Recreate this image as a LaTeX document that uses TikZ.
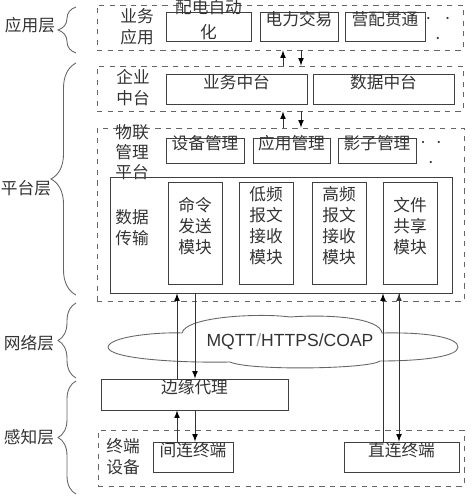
\documentclass[tikz,border=0pt]{standalone}
\usepackage{fontspec}
\setmainfont{Noto Sans CJK SC}
\newfontfamily\protofont{Liberation Sans}
\usetikzlibrary{arrows,fit,decorations.pathreplacing}
\begin{document}
\begin{tikzpicture}[x=0.02cm,y=-0.02cm,line width=0.5pt,
		font=\fontsize{9.5}{12}\selectfont,
		box/.style={draw=black!75,inner sep=0pt,align=center,text=black!80},
		group/.style={draw=black!60,dashed,inner sep=0pt},
		txt/.style={align=center,inner sep=0pt,text=black!80},
		dots/.style={txt,font=\fontsize{6}{11.5}\selectfont},
		layerbrace/.style={draw=black!60,decorate,decoration={brace,amplitude=#1}}]
	\useasboundingbox (0,0) rectangle (471,500);
	\node[group,fit={(97,5) (463,50)}] (appg) {};
	\node[group,fit={(97,66) (463,111)}] (entg) {};
	\node[group,fit={(97,128) (464,301)}] (iotg) {};
	\node[group,fit={(98,430) (464,486)}] (termg) {};
	\node[txt] (applbl) at (30,25) {应用层};
	\node[txt] (platlbl) at (26,188) {平台层};
	\node[txt] (netlbl) at (29,343) {网络层};
	\node[txt] (senslbl) at (29,437) {感知层};
	\draw[layerbrace=0.36cm] (76,53) -- (76,7);
	\draw[layerbrace=0.5cm] (76,295) -- (76,63);
	\draw[layerbrace=0.36cm] (76,378) -- (76,303);
	\draw[layerbrace=0.36cm] (76,494) -- (76,381);
	\node[txt] (apptxt) at (137,27) {业务\\应用};
	\node[box,fit={(166,12) (251,41)},font=\fontsize{9.5}{14.5}\selectfont] (pd) {配电自动\\化};
	\node[box,fit={(260,12) (338,41)}] (jy) {电力交易};
	\node[box,fit={(345,12) (425,41)}] (yp) {营配贯通};
	\node[dots] (appdots) at (438,30) {·\hspace{5pt}·\\·};
	\node[txt] (enttxt) at (133,88) {企业\\中台};
	\node[box,fit={(166,74) (307,104)}] (ywzt) {业务中台};
	\node[box,fit={(313,74) (454,104)}] (sjzt) {数据中台};
	\node[txt,font=\fontsize{9.5}{11.5}\selectfont] (iottxt) at (132,152) {物联\\管理\\平台};
	\node[box,fit={(166,138) (244,163)}] (sbgl) {设备管理};
	\node[box,fit={(253,138) (330,163)}] (yygl) {应用管理};
	\node[box,fit={(338,138) (416,163)}] (yzgl) {影子管理};
	\node[dots] (iotdots) at (431,154) {·\hspace{3pt}·\\·};
	\node[box,fit={(110,177) (452,293)}] (data) {};
	\node[txt] (datatxt) at (132,228) {数据\\传输};
	\node[box,fit={(168,182) (222,284)}] (mlfs) {命令\\发送\\模块};
	\node[box,fit={(239,182) (293,284)}] (dpbw) {低频\\报文\\接收\\模块};
	\node[box,fit={(312,182) (366,284)}] (gpbw) {高频\\报文\\接收\\模块};
	\node[box,fit={(383,182) (437,284)}] (wjgx) {文件\\共享\\模块};
	\draw[draw=black!60] (108,347) .. controls (110,336) and (160,332) .. (182,333)
		.. controls (186,316) and (262,313) .. (290,317)
		.. controls (330,314) and (380,318) .. (382,333)
		.. controls (430,332) and (458,338) .. (458,347)
		.. controls (458,357) and (420,361) .. (380,361)
		.. controls (370,369) and (250,371) .. (230,362)
		.. controls (180,363) and (108,359) .. (108,347) -- cycle;
	\node[txt,font=\protofont\fontsize{10}{12}\selectfont] (proto) at (290,342) {MQTT{\color{black!40}/}HTTPS/COAP};
	\node[box,fit={(101,379) (288,410)}] (agent) {边缘代理};
	\node[txt] (termtxt) at (123,457) {终端\\设备};
	\node[box,fit={(153,442) (233,472)}] (ind) {间连终端};
	\node[box,fit={(344,442) (459,472)}] (dir) {直连终端};
	\coordinate (ua) at (283,0);
	\coordinate (da) at (301,0);
	\coordinate (lu) at (177,0);
	\coordinate (ld) at (195,0);
	\coordinate (ru) at (383,0);
	\coordinate (rd) at (399,0);
	\path[-latex,draw=black!80]
		(entg.north -| ua) edge (appg.south -| ua)
		(appg.south -| da) edge (entg.north -| da)
		(iotg.north -| ua) edge (entg.south -| ua)
		(entg.south -| da) edge (iotg.north -| da)
		(agent.north -| lu) edge (data.south -| lu)
		(data.south -| ld) edge (agent.north -| ld)
		(ind.north -| lu) edge (agent.south -| lu)
		(agent.south -| ld) edge (ind.north -| ld)
		(dir.north -| ru) edge (data.south -| ru)
		(data.south -| rd) edge (dir.north -| rd);
\end{tikzpicture}
\end{document}
